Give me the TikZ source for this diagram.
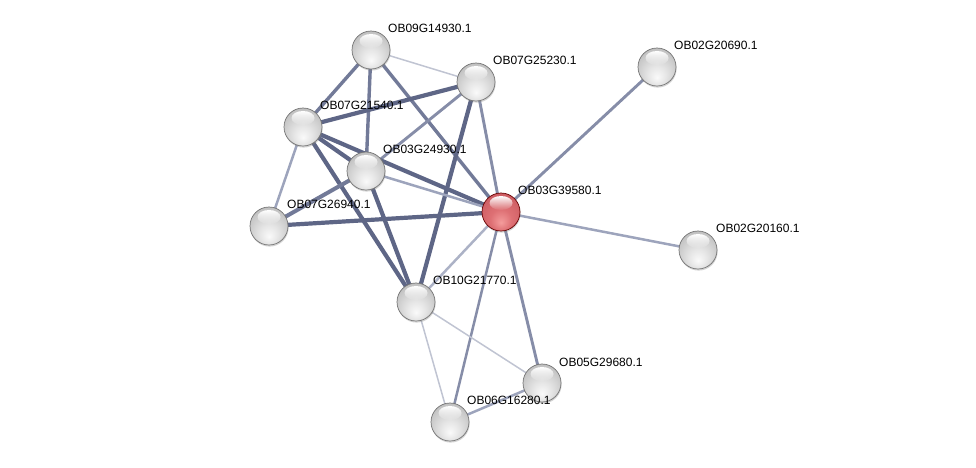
\documentclass[tikz,border=0pt]{standalone}
\usepackage{fontspec}
\setmainfont{Liberation Sans}
\usetikzlibrary{shadows,fadings}
\pgfdeclarelayer{bg}
\pgfsetlayers{bg,main}
\pgfdeclareradialshading{greyball}{\pgfpoint{0bp}{-14bp}}{color(0bp)=(black!2); color(12bp)=(black!10); color(30bp)=(black!24); color(42bp)=(black!34); color(50bp)=(black!46); color(56bp)=(black!58)}
\definecolor{rcore}{RGB}{244,156,156}
\definecolor{rmid}{RGB}{222,112,116}
\definecolor{rbase}{RGB}{202,90,96}
\definecolor{redge}{RGB}{160,50,58}
\pgfdeclareradialshading{redball}{\pgfpoint{0bp}{-14bp}}{color(0bp)=(rcore); color(14bp)=(rmid); color(34bp)=(rbase); color(50bp)=(redge); color(56bp)=(redge)}
\definecolor{edark}{RGB}{94,102,134}
\definecolor{emid}{RGB}{114,122,152}
\definecolor{emidl}{RGB}{134,141,168}
\definecolor{elight}{RGB}{157,164,188}
\definecolor{efaint}{RGB}{192,196,210}
\tikzset{
  prot/.style={circle, minimum size=38pt, inner sep=0pt, draw=black!55, line width=0.7pt, shading=greyball,
    drop shadow={opacity=0.35, shadow xshift=0.6pt, shadow yshift=-1.6pt}},
  protred/.style={prot, draw=red!40!black, shading=redball},
  lab/.style={anchor=base west, inner sep=0pt, font=\fontsize{12}{14}\selectfont, text=black},
  ethick/.style={draw=edark, line width=4.2pt},
  emedium/.style={draw=emid, line width=3.4pt},
  emedl/.style={draw=emidl, line width=2.9pt},
  elite/.style={draw=elight, line width=2.5pt},
  efnt/.style={draw=efaint, line width=1.5pt},
}
\newcommand{\hilite}[1]{\fill[white, path fading=south] ([yshift=9pt]#1.center) ellipse (11.5pt and 7pt);}
\begin{document}
\begin{tikzpicture}[x=1pt,y=-1pt]
\useasboundingbox (0,0) rectangle (976,467);
% nodes
\node[prot] (n09) at (371,50) {};
\node[prot] (n25) at (476,82) {};
\node[prot] (n20690) at (657,67) {};
\node[prot] (n21) at (303,127) {};
\node[prot] (n24) at (366,171) {};
\node[protred] (n39) at (501,212) {};
\node[prot] (n26) at (269,226) {};
\node[prot] (n20160) at (698,250) {};
\node[prot] (n10) at (416,302) {};
\node[prot] (n05) at (542,383) {};
\node[prot] (n06) at (450,422) {};
\foreach \n in {n09,n25,n20690,n21,n24,n39,n26,n20160,n10,n05,n06}{\hilite{\n}}
% labels
\node[lab] (l09) at (388,32) {OB09G14930.1};
\node[lab] (l25) at (493,64) {OB07G25230.1};
\node[lab] (l20690) at (674,49) {OB02G20690.1};
\node[lab] (l21) at (320,109) {OB07G21540.1};
\node[lab] (l24) at (383,153) {OB03G24930.1};
\node[lab] (l39) at (518,194) {OB03G39580.1};
\node[lab] (l26) at (287,208) {OB07G26940.1};
\node[lab] (l20160) at (716,232) {OB02G20160.1};
\node[lab] (l10) at (433,284) {OB10G21770.1};
\node[lab] (l05) at (559,366) {OB05G29680.1};
\node[lab] (l06) at (467,404) {OB06G16280.1};
% edges
\begin{pgfonlayer}{bg}
\draw[efnt] (n09.center) -- (n25.center);
\draw[emedium] (n09.center) -- (n21.center);
\draw[emedium] (n09.center) -- (n24.center);
\draw[emedium] (n09.center) -- (n39.center);
\draw[ethick] (n25.center) -- (n21.center);
\draw[emedl] (n25.center) -- (n24.center);
\draw[ethick] (n25.center) -- (n10.center);
\draw[emedl] (n25.center) -- (n39.center);
\draw[ethick] (n21.center) -- (n24.center);
\draw[ethick] (n21.center) -- (n39.center);
\draw[elite] (n21.center) -- (n26.center);
\draw[ethick] (n21.center) -- (n10.center);
\draw[emedium, line width=4pt] (n24.center) -- (n26.center);
\draw[elite] (n24.center) -- (n39.center);
\draw[ethick] (n24.center) -- (n10.center);
\draw[ethick] (n26.center) -- (n39.center);
\draw[emedl] (n39.center) -- (n20690.center);
\draw[elite] (n39.center) -- (n20160.center);
\draw[elite, draw=elight!85!white] (n39.center) -- (n10.center);
\draw[elite, draw=emidl] (n39.center) -- (n06.center);
\draw[emedl] (n39.center) -- (n05.center);
\draw[efnt] (n10.center) -- (n05.center);
\draw[efnt] (n10.center) -- (n06.center);
\draw[elite] (n06.center) -- (n05.center);
\end{pgfonlayer}
\end{tikzpicture}
\end{document}
